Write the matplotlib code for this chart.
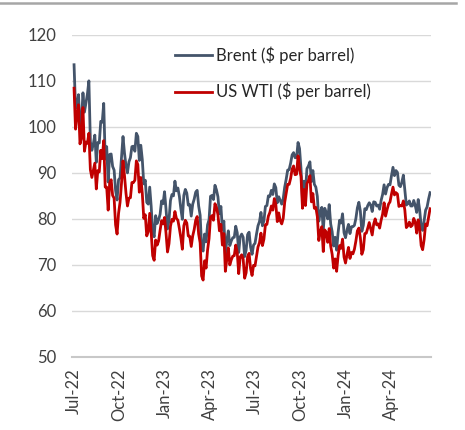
import matplotlib
matplotlib.use("Agg")
import matplotlib.pyplot as plt
import matplotlib.dates as mdates
from matplotlib.lines import Line2D
import pandas as pd

start_date = "2022-07-01"   # series sampled every 3 days
brent = [
    113.5, 104.0, 104.6, 107.0, 99.6, 101.2, 107.4, 103.2, 105.2, 107.1, 110.0,
    96.8, 94.9, 96.3, 98.2, 92.3, 96.6, 96.5, 101.2, 101.0, 105.1,
    93.0, 95.7, 88.0, 94.0, 94.1, 91.4, 90.6, 86.2, 84.1, 88.5,
    88.9, 93.4, 97.9, 94.3, 91.6, 90.0, 92.4, 93.3, 95.7, 95.8,
    94.7, 98.6, 97.9, 92.7, 96.0, 92.9, 87.6, 88.4, 83.6, 83.2,
    86.9, 82.7, 77.2, 76.1, 80.7, 79.0, 79.8, 81.0, 83.9, 83.3, 85.9,
    82.1, 77.8, 79.7, 84.0, 85.3, 85.0, 88.2, 86.1, 86.7, 84.9,
    82.2, 79.9, 85.1, 86.4, 85.6, 83.0, 83.1, 80.6, 83.2,
    84.3, 85.8, 86.2, 82.8, 80.8, 73.7, 73.0, 76.7, 75.0, 78.7, 79.8,
    84.9, 85.1, 84.2, 87.3, 86.3, 84.8, 81.1, 82.7, 77.7, 79.5,
    72.3, 75.3, 77.4, 74.2, 75.2, 75.9, 76.0, 78.4, 77.0, 72.7,
    76.1, 76.7, 76.0, 71.8, 73.2, 76.6, 77.1, 73.9, 72.3, 74.3,
    74.7, 76.7, 78.5, 79.4, 81.4, 78.5, 79.6, 82.7, 82.9, 85.0,
    84.9, 86.2, 85.3, 87.6, 86.8, 83.5, 84.8, 84.0, 83.2, 84.4, 86.9,
    88.6, 90.6, 90.7, 92.1, 93.9, 94.4, 93.3, 93.3, 96.6, 95.3,
    90.9, 84.1, 88.2, 86.0, 90.9, 91.5, 92.4, 88.1, 90.5, 87.5,
    86.9, 84.9, 79.5, 81.4, 82.5, 77.4, 82.3, 81.4, 80.0, 83.1,
    78.9, 77.2, 74.1, 76.0, 73.2, 77.0, 79.7, 79.1, 81.1, 77.0,
    75.9, 77.6, 78.8, 76.8, 78.3, 78.3, 78.6, 80.1, 82.4, 83.6, 81.7,
    77.3, 78.6, 82.2, 82.0, 82.9, 83.5, 83.0, 81.6, 83.7,
    83.6, 82.8, 83.0, 82.1, 84.0, 85.3, 87.4, 85.4, 86.8, 87.5, 87.4,
    89.4, 91.2, 89.4, 90.5, 90.1, 87.3, 87.0, 88.0, 89.5, 86.3,
    83.0, 83.3, 83.9, 82.8, 82.8, 84.0, 82.9, 81.4, 84.2, 81.9,
    78.4, 77.5, 79.6, 81.9, 82.6, 84.3, 85.7,
]
wti = [
    108.4, 99.5, 102.7, 104.8, 96.3, 97.6, 104.2, 94.7, 96.7, 96.4, 98.6,
    90.7, 89.0, 90.5, 92.1, 86.5, 90.5, 90.2, 94.9, 93.1, 97.0,
    86.9, 86.9, 81.9, 87.8, 88.5, 85.1, 84.5, 78.7, 76.7, 81.2,
    83.6, 87.8, 92.6, 89.4, 85.6, 82.8, 84.5, 84.6, 87.9, 87.9,
    88.4, 92.6, 91.8, 85.8, 89.0, 85.6, 80.1, 80.9, 76.3, 77.2,
    81.2, 77.0, 72.0, 71.0, 75.4, 74.3, 75.2, 77.5, 79.6, 78.9, 80.3,
    76.9, 72.8, 74.6, 78.4, 79.9, 79.5, 81.6, 80.1, 79.7, 77.9,
    75.9, 73.4, 78.5, 79.7, 79.1, 76.3, 76.2, 74.0, 76.3,
    77.7, 79.7, 80.5, 76.7, 74.8, 67.6, 66.7, 70.9, 69.3, 73.2, 75.7,
    80.4, 80.7, 79.7, 83.3, 82.5, 80.9, 77.4, 78.8, 74.3, 76.8,
    68.6, 71.3, 73.7, 70.0, 71.1, 71.9, 72.0, 74.3, 72.7, 68.1,
    71.7, 72.2, 71.3, 67.1, 68.3, 71.8, 72.5, 69.2, 67.7, 69.9,
    69.8, 71.8, 73.9, 74.8, 76.9, 74.2, 75.6, 78.7, 78.8, 80.6,
    81.4, 82.8, 81.9, 84.4, 83.2, 79.4, 81.3, 79.6, 78.9, 80.1, 83.6,
    85.6, 87.5, 87.5, 88.8, 90.8, 91.5, 89.6, 89.7, 93.7, 90.8,
    89.2, 82.3, 86.4, 82.9, 87.7, 88.3, 89.4, 83.7, 85.5, 82.3,
    82.5, 80.5, 75.3, 77.2, 78.3, 72.9, 77.6, 77.1, 74.9, 77.9,
    74.1, 72.3, 69.3, 71.3, 68.6, 72.0, 74.2, 73.6, 75.6, 71.7,
    70.4, 72.2, 73.8, 71.4, 72.7, 72.4, 73.4, 75.2, 77.4, 78.0, 75.9,
    72.3, 73.3, 76.8, 76.9, 78.0, 79.2, 77.9, 76.5, 78.9,
    80.0, 78.7, 78.9, 78.0, 79.7, 81.0, 83.5, 80.6, 82.0, 83.2, 83.7,
    85.4, 86.9, 85.2, 85.7, 85.4, 82.7, 82.9, 82.8, 83.9, 81.9,
    78.1, 78.5, 79.3, 78.3, 78.6, 80.1, 79.3, 76.9, 79.8, 77.9,
    74.2, 73.3, 75.5, 78.9, 78.5, 80.3, 82.2,
]
tick_dates = ["2022-07-01", "2022-10-01", "2023-01-01", "2023-04-01",
              "2023-07-01", "2023-10-01", "2024-01-01", "2024-04-01"]
tick_labels = ["Jul-22", "Oct-22", "Jan-23", "Apr-23",
               "Jul-23", "Oct-23", "Jan-24", "Apr-24"]
y_ticks = [50, 60, 70, 80, 90, 100, 110, 120]
series_names = ["Brent ($ per barrel)", "US WTI ($ per barrel)"]

dates = pd.date_range(start_date, periods=len(brent), freq="3D")

plt.rcParams["font.family"] = ["Lato", "DejaVu Sans"]
fig = plt.figure(figsize=(4.65, 4.30), dpi=100)
ax = fig.add_axes([0.155, 0.170, 0.772, 0.749])

text_color = "#404040"
ax.plot(dates, brent, color="#44546A", lw=2.0, label=series_names[0], zorder=3)
ax.plot(dates, wti, color="#C00000", lw=2.0, label=series_names[1], zorder=4)

ax.set_ylim(50, 120)
ax.set_yticks(y_ticks)
ax.set_xlim(pd.Timestamp("2022-06-27"), pd.Timestamp("2024-06-22"))
ax.set_xticks(pd.to_datetime(tick_dates))
ax.set_xticklabels(tick_labels, rotation=90)

ax.grid(axis="y", color="#D9D9D9", lw=1.0, zorder=0)
ax.set_axisbelow(True)
for s in ["top", "right", "left"]:
    ax.spines[s].set_visible(False)
ax.spines["bottom"].set_color("#C8C8C8")
ax.spines["bottom"].set_linewidth(1.5)
ax.tick_params(axis="both", length=0, labelsize=12, colors=text_color)
ax.tick_params(axis="y", pad=11)
ax.tick_params(axis="x", pad=8)

leg = ax.legend(loc="upper left", bbox_to_anchor=(0.268, 0.985), frameon=False,
                fontsize=12, handlelength=2.2, handletextpad=0.25,
                labelspacing=1.15, borderaxespad=0.0)
for t in leg.get_texts():
    t.set_color("#262626")

fig.add_artist(Line2D([0, 456 / 465], [1 - 3 / 430, 1 - 3 / 430],
                      transform=fig.transFigure, color="#A6A6A6", lw=1.8))

fig.savefig("out.png", dpi=100)
